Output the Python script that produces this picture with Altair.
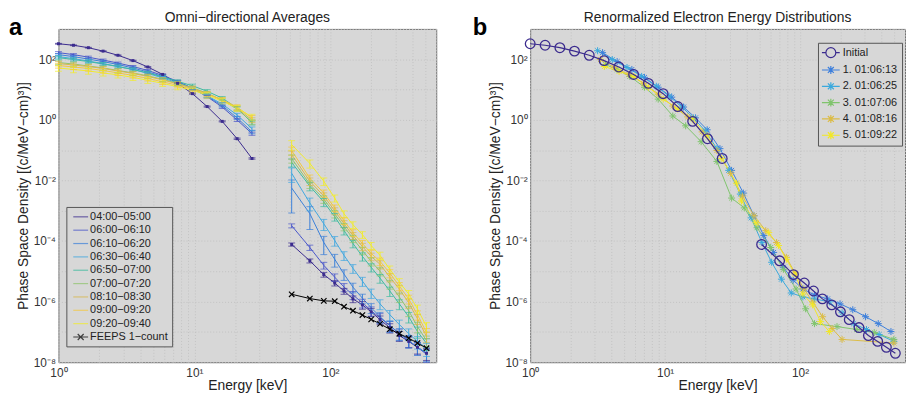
import altair as alt
import pandas as pd

FONT = "Liberation Sans"
BG = "#d7d7d7"
GRID = "#c2c2c2"

# ---------------- data: panel a ----------------
E_LOW = [1.0, 1.29, 1.66, 2.13, 2.74, 3.53, 4.54, 5.84, 7.52, 9.67, 12.4, 16.0, 20.6, 26.5]
E_HIGH = [51.9, 70.6, 89.4, 107.6, 125.9, 146.5, 171.9, 199.4, 231.6, 273.5, 321.2, 376.5, 436.6, 509.0]

SERIES_A = ["04:00−05:00", "06:00−06:10", "06:10−06:20", "06:30−06:40", "06:50−07:00",
            "07:00−07:20", "08:10−08:30", "09:00−09:20", "09:20−09:40", "FEEPS 1−count"]
COLORS_A = ["#3b2b8e", "#4a57c9", "#3a7fd9", "#40a7e0", "#3dbb9f", "#8ec46b",
            "#d9b84c", "#f4c83c", "#f2ec2a", "#000000"]

LOW = [
    [324, 289, 240, 185, 135, 90, 55.5, 31.5, 16.0, 7.3, 2.74, 0.89, 0.238, 0.053],
    [165, 142, 117, 93.8, 74.8, 57.5, 42.6, 29.2, 18.6, 11.0, 5.81, 2.64, 0.99, 0.35],
    [142, 122, 101, 83.7, 66.8, 51.4, 38.0, 27.1, 17.9, 11.0, 6.04, 2.96, 1.16, 0.40],
    [122, 105, 86.9, 72.0, 57.5, 45.9, 34.0, 24.2, 16.6, 10.6, 6.27, 3.31, 1.45, 0.51],
    [113, 97.3, 83.7, 69.4, 57.5, 45.9, 35.3, 26.1, 18.6, 13.3, 8.79, 5.19, 2.45, 0.79],
    [77.7, 69.4, 59.7, 51.4, 42.6, 35.3, 28.2, 21.7, 16.0, 11.4, 7.56, 4.47, 2.27, 0.855],
    [72.0, 64.4, 57.5, 49.5, 41.0, 34.0, 27.1, 20.8, 15.4, 11.0, 7.28, 4.47, 2.45, 0.99],
    [62.0, 55.4, 49.5, 42.6, 35.3, 29.2, 23.3, 17.9, 13.8, 10.2, 7.02, 4.64, 2.64, 1.16],
    [51.4, 45.9, 41.0, 35.3, 30.4, 25.2, 20.1, 16.0, 12.3, 9.47, 6.51, 4.14, 2.45, 1.25],
]
HIGH = [
    [7.7e-5, 2.22e-5, 7.8e-6, 4.1e-6, 2.24e-6, 1.23e-6, 7.8e-7, 4.6e-7, 2.54e-7, 1.39e-7, 7.6e-8, 4.86e-8, 3.1e-8, 1.97e-8],
    [3.2e-4, 6.1e-5, 1.58e-5, 6.4e-6, 3.03e-6, 1.66e-6, 9.1e-7, 5.0e-7, 2.95e-7, 1.62e-7, 8.9e-8, 5.2e-8, 3.1e-8, 1.83e-8],
    [5.6e-3, 8.0e-4, 8.9e-5, 2.5e-5, 8.1e-6, 3.0e-6, 1.3e-6, 6.3e-7, 3.2e-7, 1.6e-7, 8.9e-8, 5.2e-8, 3.1e-8, 2.0e-8],
    [1.72e-2, 1.80e-3, 3.7e-4, 1.04e-4, 3.36e-5, 1.26e-5, 4.76e-6, 1.93e-6, 8.45e-7, 3.70e-7, 1.75e-7, 8.87e-8, 4.86e-8, 2.87e-8],
    [3.93e-2, 6.47e-3, 1.95e-3, 6.3e-4, 2.20e-4, 8.28e-5, 3.11e-5, 1.36e-5, 5.96e-6, 2.24e-6, 8.45e-7, 3.18e-7, 1.03e-7, 4.18e-8],
    [5.31e-2, 7.5e-3, 2.43e-3, 7.9e-4, 2.97e-4, 1.21e-4, 4.89e-5, 2.14e-5, 1.01e-5, 3.80e-6, 1.43e-6, 4.99e-7, 1.50e-7, 5.2e-8],
    [7.16e-2, 9.4e-3, 3.05e-3, 9.9e-4, 3.72e-4, 1.51e-4, 6.6e-5, 3.11e-5, 1.71e-5, 6.4e-6, 2.61e-6, 9.1e-7, 2.74e-7, 7.1e-8],
    [9.68e-2, 1.18e-2, 3.82e-3, 1.24e-3, 4.66e-4, 1.89e-4, 8.28e-5, 3.90e-5, 2.14e-5, 8.7e-6, 3.27e-6, 1.23e-6, 3.70e-7, 9.5e-8],
    [0.152, 3.64e-2, 9.4e-3, 2.62e-3, 7.9e-4, 3.45e-4, 1.63e-4, 7.1e-5, 3.36e-5, 1.17e-5, 4.4e-6, 1.79e-6, 5.8e-7, 1.50e-7],
]
# relative 1-sigma errors
LOW_ERR = [
    [0.03, 0.03, 0.03, 0.03, 0.03, 0.03, 0.03, 0.03, 0.03, 0.04, 0.04, 0.04, 0.05, 0.05],
    [0.08, 0.08, 0.08, 0.08, 0.08, 0.08, 0.08, 0.09, 0.09, 0.09, 0.10, 0.10, 0.11, 0.12],
    [0.09, 0.09, 0.09, 0.09, 0.09, 0.09, 0.10, 0.10, 0.10, 0.10, 0.11, 0.11, 0.12, 0.13],
    [0.10, 0.10, 0.10, 0.10, 0.10, 0.10, 0.11, 0.11, 0.11, 0.11, 0.12, 0.12, 0.13, 0.14],
    [0.12, 0.12, 0.12, 0.12, 0.12, 0.12, 0.12, 0.12, 0.12, 0.13, 0.13, 0.13, 0.14, 0.15],
    [0.15, 0.15, 0.15, 0.15, 0.15, 0.15, 0.15, 0.15, 0.15, 0.15, 0.15, 0.16, 0.16, 0.17],
    [0.16, 0.16, 0.16, 0.16, 0.16, 0.16, 0.16, 0.16, 0.16, 0.16, 0.16, 0.17, 0.17, 0.18],
    [0.18, 0.18, 0.18, 0.18, 0.18, 0.18, 0.18, 0.18, 0.18, 0.18, 0.18, 0.18, 0.19, 0.20],
    [0.22, 0.22, 0.22, 0.21, 0.21, 0.21, 0.21, 0.21, 0.20, 0.20, 0.20, 0.20, 0.21, 0.22],
]
HIGH_ERR = [
    [0.12, 0.15, 0.18, 0.20, 0.22, 0.25, 0.28, 0.30, 0.32, 0.34, 0.36, 0.38, 0.40, 0.42],
    [0.15, 0.20, 0.25, 0.28, 0.30, 0.30, 0.32, 0.34, 0.36, 0.38, 0.40, 0.42, 0.44, 0.46],
    [0.85, 0.70, 0.60, 0.45, 0.38, 0.35, 0.35, 0.36, 0.38, 0.40, 0.42, 0.44, 0.46, 0.48],
    [0.50, 0.45, 0.40, 0.35, 0.32, 0.32, 0.33, 0.34, 0.36, 0.38, 0.40, 0.42, 0.44, 0.46],
    [0.30, 0.30, 0.30, 0.28, 0.28, 0.28, 0.30, 0.30, 0.32, 0.34, 0.36, 0.38, 0.40, 0.42],
    [0.30, 0.28, 0.28, 0.27, 0.27, 0.27, 0.28, 0.30, 0.30, 0.32, 0.34, 0.36, 0.38, 0.40],
    [0.30, 0.28, 0.27, 0.26, 0.26, 0.26, 0.27, 0.28, 0.30, 0.30, 0.32, 0.34, 0.36, 0.38],
    [0.30, 0.28, 0.26, 0.25, 0.25, 0.25, 0.26, 0.27, 0.28, 0.30, 0.30, 0.32, 0.34, 0.36],
    [0.35, 0.30, 0.28, 0.26, 0.25, 0.25, 0.25, 0.26, 0.27, 0.28, 0.30, 0.30, 0.32, 0.35],
]
FEEPS = [1.75e-6, 1.26e-6, 1.06e-6, 1.03e-6, 6.8e-7, 5.0e-7, 3.6e-7, 2.6e-7, 1.84e-7,
         1.23e-7, 8.7e-8, 6.2e-8, 4.3e-8, 2.9e-8]

# ---------------- data: panel b ----------------
SERIES_B = ["Initial", "1. 01:06:13", "2. 01:06:25", "3. 01:07:06", "4. 01:08:16", "5. 01:09:22"]
COLORS_B = ["#3b2b8e", "#3d7fdc", "#3aa9dd", "#80c46d", "#dcbc46", "#f2e824"]

B_E = [
    [3.44, 4.41, 5.67, 7.04, 8.89, 11.2, 13.7, 16.8, 20.5, 25.5, 31.1, 38.0, 45.6, 53.9, 63.7,
     75.3, 89.0, 105, 128, 160, 198, 246, 306, 380, 472],
    [3.16, 4.06, 5.22, 6.70, 8.61, 10.7, 13.3, 16.2, 19.8, 24.2, 29.6, 36.1, 43.4, 52.2, 61.6,
     72.8, 86.1, 105, 128, 165, 205, 250, 311, 386, 496],
    [3.61, 4.41, 5.48, 7.04, 8.89, 11.4, 14.2, 18.5, 24.2, 31.1, 38.6, 48.0, 60.6, 75.3, 93.5,
     110, 128, 188, 263, 355, 496],
    [3.32, 4.20, 5.39, 6.93, 8.89, 11.4, 14.7, 18.8, 24.2, 30.6, 37.4, 45.6, 55.7, 67.0, 79.2,
     92.0, 107, 124, 147, 173, 205, 496],
    [3.55, 4.56, 5.86, 7.53, 9.68, 12.4, 16.0, 20.5, 26.3, 33.8, 36.8, 47.2, 58.6, 69.3, 79.2,
     92.0, 105, 124, 142, 165],
]
B_V = [
    [165, 83.7, 45.9, 25.2, 11.9, 5.60, 2.64, 1.16, 0.469, 0.112, 0.0215, 3.82e-3, 6.8e-4,
     1.51e-4, 4.2e-5, 1.36e-5, 5.1e-6, 2.61e-6, 1.66e-6, 1.23e-6, 8.45e-7, 5.4e-7, 3.18e-7,
     1.88e-7, 1.03e-7],
    [191, 97.3, 53.3, 27.1, 12.8, 6.04, 2.64, 1.16, 0.435, 0.112, 0.0215, 3.55e-3, 5.8e-4,
     8.9e-5, 1.99e-5, 5.5e-6, 1.93e-6, 1.43e-6, 1.23e-6, 9.8e-7, 4.3e-7, 1.88e-7, 1.20e-7,
     8.2e-8, 4.86e-8],
    [66.8, 45.9, 27.1, 11.9, 4.82, 1.34, 0.634, 0.190, 0.0424, 2.62e-3, 1.24e-3, 2.75e-4,
     6.1e-5, 1.17e-5, 2.61e-6, 5.8e-7, 1.88e-7, 1.50e-7, 1.20e-7, 9.5e-8, 5.65e-8],
    [97.3, 53.3, 31.5, 16.0, 7.02, 2.85, 1.25, 0.40, 0.0968, 0.0172, 3.05e-3, 6.8e-4, 2.20e-4,
     8.9e-5, 2.89e-5, 8.7e-6, 2.61e-6, 9.8e-7, 3.18e-7, 1.29e-7, 5.65e-8, 4.3e-8],
    [57.5, 39.5, 27.1, 11.9, 4.82, 2.27, 1.07, 0.299, 0.0531, 8.1e-3, 2.09e-3, 4.0e-4, 1.89e-4,
     7.1e-5, 2.49e-5, 8.05e-6, 1.79e-6, 7.8e-7, 2.18e-7, 1.03e-7],
]

TITLES = ["Omni−directional Averages", "Renormalized Electron Energy Distributions"]
PANEL_LABELS = ["a", "b"]
X_TITLE = "Energy [keV]"
Y_TITLE = "Phase Space Density [(c/MeV−cm)³)]"
X_TICKS = [1, 2, 3, 4, 5, 6, 7, 8, 9, 10, 20, 30, 40, 50, 60, 70, 80, 90,
           100, 200, 300, 400, 500, 600]
Y_TICKS = [1e-8, 1e-7, 1e-6, 1e-5, 1e-4, 1e-3, 1e-2, 1e-1, 1, 10, 100, 1000]

# marker / legend-symbol paths
DASH_LEG = "M-1.5,0L1.5,0"
FEEPS_LEG = "M-1.5,0L1.5,0M-0.6,-0.6L0.6,0.6M-0.6,0.6L0.6,-0.6"
X_MARK = "M-1,-1L1,1M-1,1L1,-1"
CIRC_LEG = "M-1.8,0L-1,0M1,0L1.8,0M-1,0A1,1 0 1,1 1,0A1,1 0 1,1 -1,0"
AST_LEG = "M-1.8,0L1.8,0M0,-0.8L0,0.8M-0.6,-0.6L0.6,0.6M-0.6,0.6L0.6,-0.6"
AST_MARK = "M-1,0L1,0M0,-1L0,1M-0.7,-0.7L0.7,0.7M-0.7,0.7L0.7,-0.7"

X_LABELS = "datum.value == 1 ? '10⁰' : datum.value == 10 ? '10¹' : datum.value == 100 ? '10²' : ''"
Y_LABELS = ("round(log(datum.value)/LN10) == 2 ? '10²' : round(log(datum.value)/LN10) == 0 ? '10⁰' : "
            "round(log(datum.value)/LN10) == -2 ? '10⁻²' : round(log(datum.value)/LN10) == -4 ? '10⁻⁴' : "
            "round(log(datum.value)/LN10) == -6 ? '10⁻⁶' : round(log(datum.value)/LN10) == -8 ? '10⁻⁸' : ''")

xs = alt.Scale(type="log", domain=[1, 600], nice=False)
ys = alt.Scale(type="log", domain=[1e-8, 1e3], nice=False)

x_axis = alt.Axis(values=X_TICKS, labelExpr=X_LABELS, grid=True, gridColor=GRID, gridDash=[1, 2],
                  gridWidth=1, ticks=False, domain=False, labelFontSize=12, labelColor="#333",
                  titleFontSize=14, titleColor="#222", titleFontWeight="normal", labelPadding=5,
                  titlePadding=1, labelOverlap=False, labelFlush=False, title=X_TITLE)
y_axis = alt.Axis(values=Y_TICKS, labelExpr=Y_LABELS, grid=True, gridColor=GRID, gridDash=[1, 2],
                  gridWidth=1, ticks=False, domain=False, labelFontSize=12, labelColor="#333",
                  titleFontSize=14, titleColor="#222", titleFontWeight="normal", labelPadding=3,
                  titlePadding=3, labelOverlap=False, title=Y_TITLE)

X = alt.X("energy:Q", scale=xs, axis=x_axis)
Y = alt.Y("psd:Q", scale=ys, axis=y_axis)
Y_LO = alt.Y("lo:Q", scale=ys, axis=y_axis)
Y_HI = alt.Y("hi:Q", scale=ys, axis=y_axis)
C_ID = alt.Color("col:N", scale=None)


def legend(x, y, size, sym_off, lab_off):
    return alt.Legend(title=None, orient="none", legendX=x, legendY=y, direction="vertical",
                      fillColor=BG, strokeColor="#555", padding=4, labelFont=FONT,
                      labelFontSize=size, labelColor="#222", symbolSize=100,
                      symbolStrokeWidth=1.2, symbolOpacity=1, rowPadding=2.5,
                      labelOffset=lab_off, symbolOffset=sym_off, labelLimit=200)


def panel_label(i):
    return alt.Chart(pd.DataFrame({"label": [PANEL_LABELS[i]]})).mark_text(
        font=FONT, fontSize=24, fontWeight="bold", align="left",
        baseline="alphabetic", color="#000"
    ).encode(text="label:N", x=alt.value(-50 if i == 0 else -58), y=alt.value(6))


# ---------------- panel a ----------------
rows = []
for i in range(9):
    for seg, (E, V, R) in enumerate([(E_LOW, LOW[i], LOW_ERR[i]), (E_HIGH, HIGH[i], HIGH_ERR[i])]):
        for e, v, r in zip(E, V, R):
            rows.append(dict(series=SERIES_A[i], col=COLORS_A[i], seg=seg, order=i, energy=e,
                             psd=v, lo=v * (1 - r), hi=v * (1 + r)))
for e, v in zip(E_HIGH, FEEPS):
    rows.append(dict(series=SERIES_A[9], col=COLORS_A[9], seg=1, order=9, energy=e, psd=v,
                     lo=v, hi=v))
dfa = pd.DataFrame(rows)

base_a = alt.Chart(dfa)
lines_a = base_a.mark_line(strokeWidth=1).encode(x=X, y=Y, color=C_ID, detail="seg:N")
err_a = base_a.transform_filter(alt.datum.order < 9)
rules_a = err_a.mark_rule(strokeWidth=1).encode(x=X, y=Y_LO, y2="hi:Q", color=C_ID)
cap_lo = err_a.mark_tick(orient="horizontal", size=7, thickness=1).encode(x=X, y=Y_LO, color=C_ID)
cap_hi = err_a.mark_tick(orient="horizontal", size=7, thickness=1).encode(x=X, y=Y_HI, color=C_ID)
sq_a = base_a.transform_filter(alt.datum.order == 0).mark_square(size=9, opacity=1).encode(
    x=X, y=Y, color=C_ID)
x_a = base_a.transform_filter(alt.datum.order == 9).mark_point(
    shape=X_MARK, size=30, filled=False, strokeWidth=1.2, opacity=1).encode(x=X, y=Y, color=C_ID)
leg_a = base_a.mark_point(opacity=0, filled=False).encode(
    x=X, y=Y,
    color=alt.Color("series:N", scale=alt.Scale(domain=SERIES_A, range=COLORS_A),
                    legend=legend(8, 180, 11, 4.5, 3.5)),
    shape=alt.Shape("series:N", scale=alt.Scale(domain=SERIES_A, range=[DASH_LEG] * 9 + [FEEPS_LEG]),
                    legend=legend(8, 180, 11, 4.5, 3.5)))

panel_a = alt.layer(lines_a, rules_a, cap_lo, cap_hi, sq_a, x_a, leg_a, panel_label(0)).properties(
    width=382, height=337, title=alt.TitleParams(TITLES[0], frame="group"))

# ---------------- panel b ----------------
rows = []
for seg, (E, V) in enumerate([(E_LOW, LOW[0]), (E_HIGH, HIGH[0])]):
    for e, v in zip(E, V):
        rows.append(dict(series=SERIES_B[0], col=COLORS_B[0], seg=seg, order=0, energy=e, psd=v))
for k in range(5):
    for e, v in zip(B_E[k], B_V[k]):
        rows.append(dict(series=SERIES_B[k + 1], col=COLORS_B[k + 1], seg=0, order=k + 1,
                         energy=e, psd=v))
dfb = pd.DataFrame(rows)

base_b = alt.Chart(dfb)
lines_b = base_b.transform_filter(alt.datum.order > 0).mark_line(strokeWidth=1).encode(
    x=X, y=Y, color=C_ID, detail="series:N")
ast_b = base_b.transform_filter(alt.datum.order > 0).mark_point(
    shape=AST_MARK, size=50, filled=False, strokeWidth=1, opacity=1).encode(x=X, y=Y, color=C_ID)
init_lines = base_b.transform_filter(alt.datum.order == 0).mark_line(strokeWidth=1.2).encode(
    x=X, y=Y, color=C_ID, detail="seg:N")
circ_b = base_b.transform_filter(alt.datum.order == 0).mark_point(
    shape="circle", size=95, filled=False, strokeWidth=1.3, opacity=1).encode(x=X, y=Y, color=C_ID)
leg_b = base_b.mark_point(opacity=0, filled=False).encode(
    x=X, y=Y,
    color=alt.Color("series:N", scale=alt.Scale(domain=SERIES_B, range=COLORS_B),
                    legend=legend(291, 14, 11, 3, 6)),
    shape=alt.Shape("series:N", scale=alt.Scale(domain=SERIES_B, range=[CIRC_LEG] + [AST_LEG] * 5),
                    legend=legend(291, 14, 11, 3, 6)))

panel_b = alt.layer(lines_b, ast_b, init_lines, circ_b, leg_b, panel_label(1)).properties(
    width=379, height=337, title=alt.TitleParams(TITLES[1], frame="group"))

chart = alt.hconcat(panel_a, panel_b, spacing=35).resolve_scale(
    color="independent", shape="independent"
).properties(padding=0).configure(font=FONT).configure_view(
    fill=BG, stroke="#707070", strokeWidth=1
).configure_title(fontSize=14, fontWeight="normal", color="#222", offset=-9, font=FONT)

chart.save("out.html", embed_options={"renderer": "svg", "actions": False})
